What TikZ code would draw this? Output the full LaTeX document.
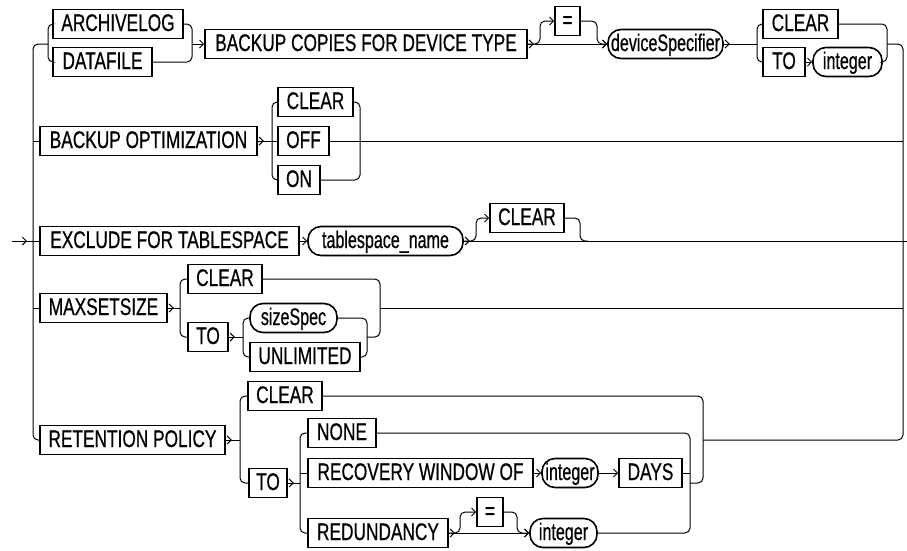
\documentclass[tikz,border=0pt]{standalone}
\usepackage{fontspec}
\setmainfont{Liberation Sans}[FakeStretch=0.72,FakeBold=0.6]
\newfontfamily\varfont{Liberation Sans}[FakeStretch=0.67,FakeBold=0.6]
\usetikzlibrary{arrows.meta,decorations.markings}

\begin{document}
\begin{tikzpicture}[x=1pt,y=-1pt,line width=1pt,rounded corners=5pt,
  >={Straight Barb[length=4pt,width=8pt]},
  kw/.style={draw,sharp corners,line width=1.6pt,minimum height=29pt,inner sep=0pt,
    text height=17pt,text depth=3pt,font=\fontsize{24}{28}\selectfont},
  var/.style={kw,rounded corners=13pt,font=\varfont\fontsize{24}{28}\selectfont},
  outarr/.style={postaction={decorate},decoration={markings,mark=at position #1 with {\arrow{>}}}},
  outarr/.default=6pt]

\useasboundingbox (0,0) rectangle (907,550);

% rails
\coordinate (lt) at (33,44);
\coordinate (lb) at (33,440);
\coordinate (rt) at (903,44);
\coordinate (rb) at (903,440);
\coordinate (entry) at (12,241);
\coordinate (exit) at (907,241);

% BACKUP COPIES
\node[kw,minimum width=130pt] (archlog) at (118,24) {ARCHIVELOG};
\node[kw,minimum width=99pt] (datafile) at (102.5,62) {DATAFILE};
\node[kw,minimum width=322pt] (bcopies) at (366,44) {BACKUP COPIES FOR DEVICE TYPE};
\node[kw,minimum width=25pt] (eqa) at (567.5,21) {=};
\node[var,minimum width=115pt] (devspec) at (665.5,44) {deviceSpecifier};
\node[kw,minimum width=75pt] (clear1) at (800.5,24) {CLEAR};
\node[kw,minimum width=42pt] (to1) at (784,62) {TO};
\node[var,minimum width=69pt] (int1) at (847.5,62) {integer};

\coordinate (a1) at (48,44);
\coordinate (a2) at (192,44);
\coordinate (a3) at (540,44);
\coordinate (a4) at (597,44);
\coordinate (a5) at (757,44);
\coordinate (a6) at (887,44);
\draw (archlog.west) -| (a1) |- (datafile.west);
\draw (archlog.east) -| (a2) |- (datafile.east);
\draw[->] (a2) -- (bcopies.west);
\draw[outarr,->] (bcopies.east) -- (devspec.west);
\draw[->] (bcopies.east) -- (a3) |- (eqa.west);
\draw[->] (eqa.east) -| (a4) -- (devspec.west);
\draw[outarr] (devspec.east) -- (a5);
\draw (clear1.west) -| (a5) |- (to1.west);
\draw (clear1.east) -| (a6) |- (int1.east);
\draw[->] (to1.east) -- (int1.west);

% BACKUP OPTIMIZATION
\node[kw,minimum width=217pt] (bopt) at (148.5,141) {BACKUP OPTIMIZATION};
\node[kw,minimum width=75pt] (clear2) at (315.5,102) {CLEAR};
\node[kw,minimum width=51pt] (off) at (303.5,141) {OFF};
\node[kw,minimum width=42pt] (on) at (299,180) {ON};
\coordinate (b1) at (272,141);
\coordinate (b2) at (360,141);
\draw (lt |- bopt.west) -- (bopt.west);
\draw[outarr] (bopt.east) -- (off.west);
\draw (clear2.west) -| (b1) |- (on.west);
\draw (clear2.east) -| (b2) |- (on.east);
\draw (off.east) -- (rt |- off.east);

% EXCLUDE FOR TABLESPACE
\node[kw,minimum width=259pt] (excl) at (169.5,241) {EXCLUDE FOR TABLESPACE};
\node[var,minimum width=155pt] (tsname) at (385.5,241) {tablespace\_name};
\node[kw,minimum width=74pt] (clear3) at (527,218) {CLEAR};
\coordinate (c1) at (476,241);
\coordinate (c2) at (580,241);
\draw[outarr=15pt] (entry) -- (excl.west);
\draw[->] (excl.east) -- (tsname.west);
\draw[outarr] (tsname.east) -- (exit);
\draw[->] (tsname.east) -- (c1) |- (clear3.west);
\draw (clear3.east) -| (c2) -- ++(8,0);

% MAXSETSIZE
\node[kw,minimum width=127pt] (maxset) at (103.5,308) {MAXSETSIZE};
\node[kw,minimum width=74pt] (clear4) at (225,279) {CLEAR};
\node[kw,minimum width=40pt] (to4) at (208,337) {TO};
\node[var,minimum width=87pt] (sizespec) at (293.5,318) {sizeSpec};
\node[kw,minimum width=110pt] (unlim) at (305,357) {UNLIMITED};
\coordinate (d1) at (180,308);
\coordinate (d2) at (243,337);
\coordinate (d3) at (367,337);
\coordinate (d4) at (380,308);
\draw (lt |- maxset.west) -- (maxset.west);
\draw[outarr] (maxset.east) -- (d1);
\draw (clear4.west) -| (d1) |- (to4.west);
\draw[outarr] (to4.east) -- (d2);
\draw (sizespec.west) -| (d2) |- (unlim.west);
\draw (sizespec.east) -| (d3) |- (unlim.east);
\draw (clear4.east) -| (d4) |- (d3);
\draw (d4) -- (rt |- d4);

% RETENTION POLICY
\node[kw,minimum width=185pt] (retpol) at (132.5,440) {RETENTION POLICY};
\node[kw,minimum width=74pt] (clear5) at (285,396) {CLEAR};
\node[kw,minimum width=38pt] (to5) at (268,483) {TO};
\node[kw,minimum width=68pt] (none) at (342,433) {NONE};
\node[kw,minimum width=225pt] (recov) at (420.5,473) {RECOVERY WINDOW OF};
\node[var,minimum width=56pt] (int5a) at (570,473) {integer};
\node[kw,minimum width=63pt] (days) at (650.5,473) {DAYS};
\node[kw,minimum width=140pt] (redund) at (378,533) {REDUNDANCY};
\node[kw,minimum width=26pt] (eq5) at (490,512) {=};
\node[var,minimum width=67pt] (int5b) at (563.5,533) {integer};
\coordinate (e1) at (240,440);
\coordinate (e2) at (300,483);
\coordinate (e3) at (690,483);
\coordinate (e4) at (703,440);
\coordinate (f1) at (460,533);
\coordinate (f2) at (517,533);
\draw[outarr] (retpol.east) -- (e1);
\draw (clear5.west) -| (e1) |- (to5.west);
\draw[outarr] (to5.east) -- (e2);
\draw (none.west) -| (e2) |- (redund.west);
\draw (e2 |- recov.west) -- (recov.west);
\draw[->] (recov.east) -- (int5a.west);
\draw[->] (int5a.east) -- (days.west);
\draw (days.east) -- (e3 |- days.east);
\draw[outarr,->] (redund.east) -- (int5b.west);
\draw[->] (redund.east) -- (f1) |- (eq5.west);
\draw[->] (eq5.east) -| (f2) -- (int5b.west);
\draw (none.east) -| (e3) |- (int5b.east);
\draw (clear5.east) -| (e4) |- (e3);

% rails, closing
\draw (a1) -- (lt) -- (lb) -- (retpol.west);
\draw (a6) -- (rt) -- (rb) -- (e4);

\end{tikzpicture}
\end{document}
